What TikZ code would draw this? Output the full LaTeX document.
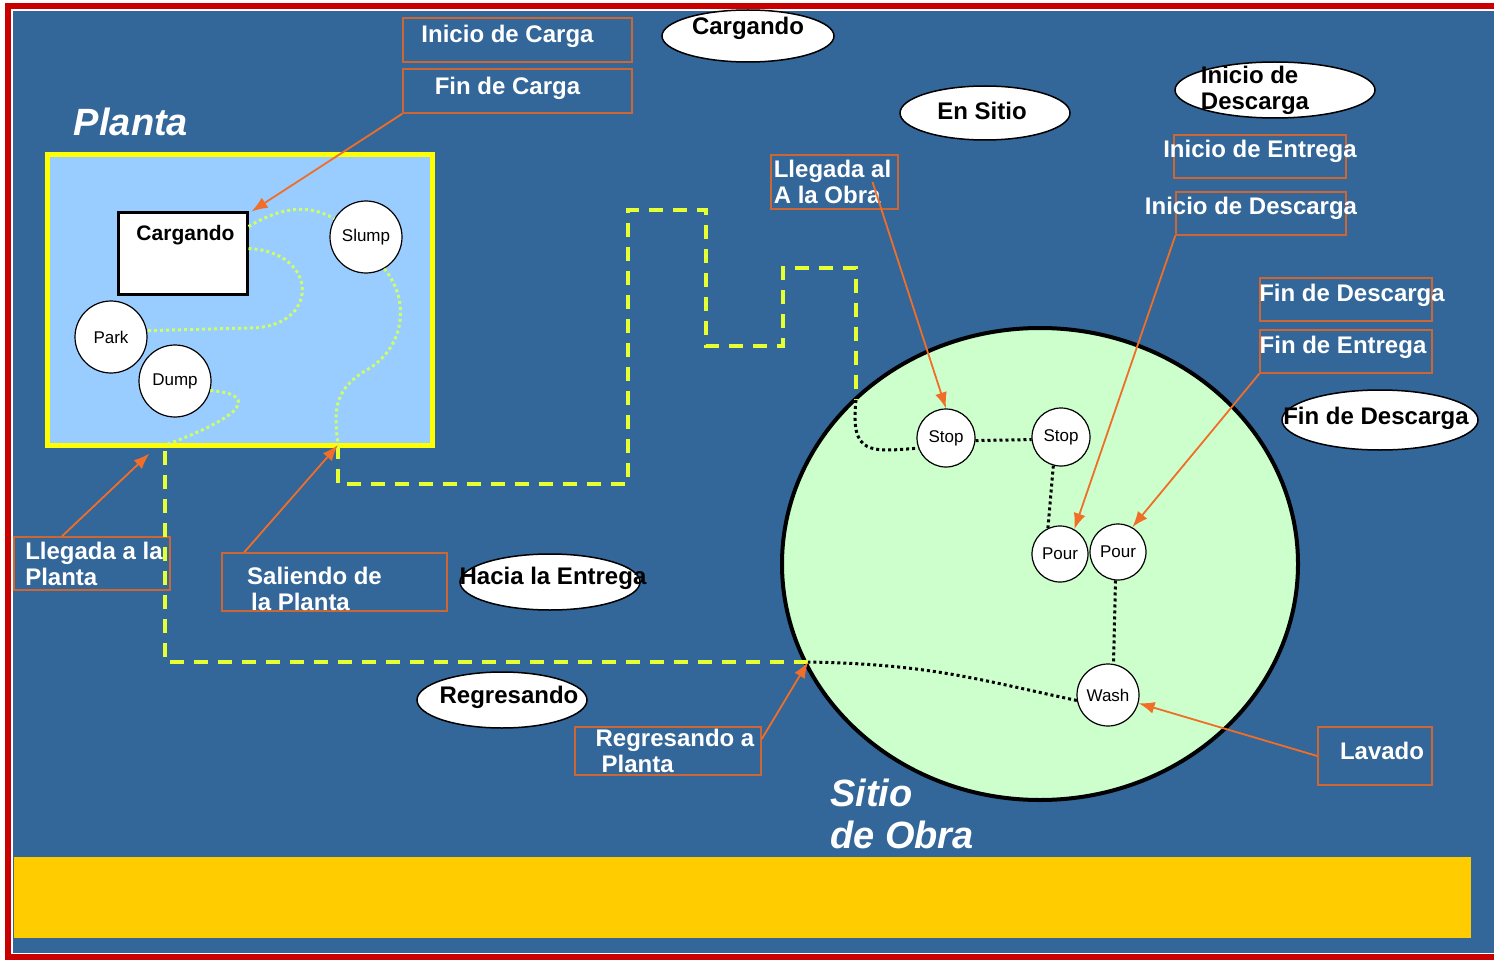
\documentclass[tikz,border=0pt]{standalone}
\usepackage{fontspec}
\setmainfont{Liberation Sans}
\usetikzlibrary{arrows.meta,positioning,shapes.geometric}
\definecolor{boardblue}{RGB}{51,102,153}
\definecolor{framered}{RGB}{200,0,0}
\definecolor{bandyellow}{RGB}{255,204,0}
\definecolor{plantblue}{RGB}{153,204,255}
\definecolor{plantedge}{RGB}{255,255,0}
\definecolor{sitegreen}{RGB}{204,255,204}
\definecolor{yardgreen}{RGB}{204,255,102}
\definecolor{routeyellow}{RGB}{230,255,51}
\definecolor{tagline}{RGB}{204,102,51}
\definecolor{arrowcol}{RGB}{240,110,40}
\newcommand{\tagfont}{\fontsize{24}{26}\selectfont\bfseries}
\newcommand{\boxfont}{\fontsize{21}{23}\selectfont\bfseries}
\newcommand{\spotfont}{\fontsize{17}{19}\selectfont}
\newcommand{\areafont}{\fontsize{38}{42}\selectfont\bfseries\itshape}

\begin{document}
\begin{tikzpicture}[x=1pt, y=-1pt,
	tagbox/.style={draw=tagline, line width=1.5pt, inner sep=0pt},
	tagtext/.style={text=white, font=\tagfont, align=left},
	bubble/.style={ellipse, draw=black, line width=1.5pt, fill=white, inner sep=0pt},
	bubbletext/.style={text=black, font=\tagfont, align=left},
	spot/.style={circle, draw=black, line width=1.2pt, fill=white, inner sep=0pt, font=\spotfont},
	yard/.style={draw=yardgreen, line width=3pt, dash pattern=on 3pt off 3pt},
	route/.style={draw=routeyellow, line width=4pt, dash pattern=on 14pt off 10pt},
	track/.style={draw=black, line width=3pt, dash pattern=on 3pt off 3pt},
	pointer/.style={draw=arrowcol, line width=1.8pt, -{Latex[length=16pt,width=12pt]}}]
	% Background
	\useasboundingbox (0,0) rectangle (1494,960);
	\fill [white] (0,0) rectangle (1494,960);
	\draw [framered, line width=6pt] (1494,6) -- (8,6) -- (8,957) -- (1494,957);
	\fill [boardblue] (13,11) rectangle (1494,953);
	\fill [bandyellow] (14,857) rectangle (1471,938);

	% Place nodes
	\node [text=white, font=\areafont] (plantaTitle) at (131,122) {Planta};
	\node [rectangle, draw=plantedge, line width=5pt, fill=plantblue, minimum width=385pt, minimum height=290pt] (planta) at (239.5,300) {};
	\node [rectangle, draw=black, line width=3pt, fill=white, minimum width=129pt, minimum height=81pt, label={[text=black, font=\boxfont, xshift=3pt, yshift=18pt]center:Cargando}] (cargando) at (182.5,253.5) {};
	\node [spot, minimum size=72pt] (slump) at (366,237) {Slump};
	\node [spot, minimum size=72pt] (park) at (111,337) {Park};
	\node [spot, minimum size=72pt] (dump) at (175,381) {Dump};

	\node [ellipse, draw=black, line width=4pt, fill=sitegreen, minimum width=516pt, minimum height=472pt] (sitio) at (1040,564) {};
	\node [spot, minimum size=58pt] (stopA) at (946,438) {Stop};
	\node [spot, minimum size=58pt] (stopB) at (1061,437) {Stop};
	\node [spot, minimum size=56pt] (pourA) at (1060,554) {Pour};
	\node [spot, minimum size=56pt] (pourB) at (1118,552) {Pour};
	\node [spot, minimum size=62pt] (wash) at (1108,695) {Wash};
	\node [text=white, font=\areafont, align=left] (sitioTitle) at (902,814) {Sitio\\de Obra};

	% Event tags
	\node [tagbox, minimum width=229pt, minimum height=44pt, label={[tagtext, xshift=-10pt, yshift=4pt]center:Inicio de Carga}] (inicioCarga) at (517.5,40) {};
	\node [tagbox, minimum width=229pt, minimum height=44pt, label={[tagtext, xshift=-10pt, yshift=3pt]center:Fin de Carga}] (finCarga) at (517.5,91) {};
	\node [tagbox, minimum width=127pt, minimum height=54pt, label={[tagtext, xshift=-2pt]center:{Llegada al\\A la Obra}}] (llegadaObra) at (834.5,182) {};
	\node [tagbox, minimum width=172pt, minimum height=43pt, label={[tagtext, yshift=5pt]center:Inicio de Entrega}] (inicioEntrega) at (1260,156.5) {};
	\node [tagbox, minimum width=170pt, minimum height=43pt, label={[tagtext, xshift=-10pt, yshift=5pt]center:Inicio de Descarga}] (inicioDescarga) at (1261,213.5) {};
	\node [tagbox, minimum width=172pt, minimum height=43pt, label={[tagtext, xshift=6pt, yshift=4pt]center:Fin de Descarga}] (finDescarga) at (1346,299.5) {};
	\node [tagbox, minimum width=172pt, minimum height=43pt, label={[tagtext, xshift=-3pt, yshift=4pt]center:Fin de Entrega}] (finEntrega) at (1346,351.5) {};
	\node [tagbox, minimum width=156pt, minimum height=53pt, label={[tagtext, xshift=2pt]center:{Llegada a la\\Planta}}] (llegadaPlanta) at (92,563.5) {};
	\node [tagbox, minimum width=225pt, minimum height=58pt, label={[tagtext, xshift=-20pt, yshift=-7pt]center:{Saliendo de\\\hspace*{4pt}la Planta}}] (saliendoPlanta) at (334.5,582) {};
	\node [tagbox, minimum width=186pt, minimum height=48pt, label={[tagtext, xshift=7pt]center:{Regresando a\\\hspace*{6pt}Planta}}] (regresandoPlanta) at (668,751) {};
	\node [tagbox, minimum width=114pt, minimum height=58pt, label={[tagtext, xshift=7pt, yshift=5pt]center:Lavado}] (lavado) at (1375,756) {};

	% State bubbles
	\node [bubble, minimum width=172pt, minimum height=52pt, label={[bubbletext, yshift=8pt]center:Cargando}] (cargandoBubble) at (748,36) {};
	\node [bubble, minimum width=170pt, minimum height=54pt, label={[bubbletext, xshift=-3pt, yshift=2pt]center:En Sitio}] (enSitio) at (985,113) {};
	\node [bubble, minimum width=200pt, minimum height=56pt, label={[bubbletext, xshift=-20pt]center:{Inicio de\\Descarga}}] (inicioBubble) at (1275,90) {};
	\node [bubble, minimum width=196pt, minimum height=60pt, label={[bubbletext, xshift=-4pt, yshift=2pt]center:Fin de Descarga}] (finBubble) at (1380,420) {};
	\node [bubble, minimum width=180pt, minimum height=56pt, label={[bubbletext, xshift=3pt, yshift=4pt]center:Hacia la Entrega}] (haciaEntrega) at (550,582) {};
	\node [bubble, minimum width=170pt, minimum height=56pt, label={[bubbletext, xshift=7pt, yshift=3pt]center:Regresando}] (regresando) at (502,700) {};

	% Route points
	\coordinate (exitP) at (338,445);
	\coordinate (entP) at (165,445);
	\coordinate (gate) at (856,400);
	\coordinate (retIn) at (808,662);

	% Draw edges
	\draw [yard] ([yshift=-15pt]cargando.north east) .. controls (285,205) and (310,205) .. (slump.150);
	\draw [yard] ([yshift=-37pt]cargando.north east) .. controls (320,252) and (320,328) .. (250,328) -- (park.10);
	\draw [yard] (dump.-15) .. controls (265,395) and (235,420) .. (entP);
	\draw [yard] (slump.-60) .. controls (410,300) and (405,345) .. (370,368) .. controls (330,390) and (335,415) .. (exitP);

	\draw [route] (exitP) -- (338,484) -- (628,484) -- (628,210) -- (706,210) -- (706,346) -- (783,346) -- (783,268) -- (856,268) -- (gate);
	\draw [route] (retIn) -- (entP |- retIn) -- (entP);

	\draw [track] (gate) .. controls (850,455) and (870,452) .. (stopA.200);
	\draw [track] (stopA.-5) -- (stopB.185);
	\draw [track] (stopB.-105) -- (pourA.115);
	\draw [track] (pourB.-95) -- (wash.80);
	\draw [track] (wash.190) .. controls (980,680) and (930,664) .. (retIn);

	\draw [pointer] (finCarga.south west) -- ([xshift=3pt]cargando.north east);
	\draw [pointer] ([xshift=-30pt]llegadaPlanta.north) -- ([xshift=105pt,yshift=-6pt]planta.south west);
	\draw [pointer] ([xshift=23pt]saliendoPlanta.north west) -- (exitP);
	\draw [pointer] ([xshift=38pt]llegadaObra.center) -- (stopA.north);
	\draw [pointer] (inicioDescarga.south west) -- (pourA.60);
	\draw [pointer] (finEntrega.south west) -- (pourB.60);
	\draw [pointer] (lavado.west) -- (wash.-15);
	\draw [pointer] ([yshift=12pt]regresandoPlanta.east) -- (retIn);
\end{tikzpicture}
\end{document}
